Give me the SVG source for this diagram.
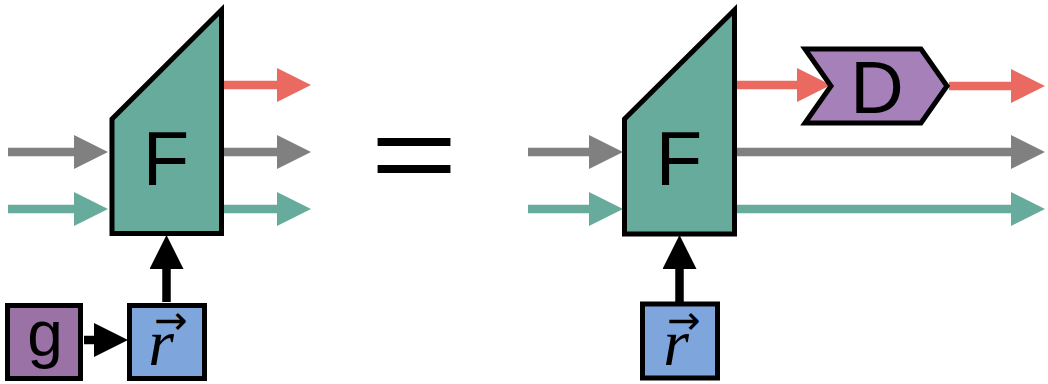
<svg xmlns="http://www.w3.org/2000/svg" width="1048" height="384" viewBox="0 0 1048 384">
<style>
.sh{stroke:#000;stroke-width:5;stroke-linejoin:miter;stroke-miterlimit:10}
.f{fill:#67ab9c}
.lbl{font-family:"Liberation Sans",Arial,sans-serif;fill:#000;text-anchor:middle}
.math{font-family:"Liberation Serif","Times New Roman",serif;font-style:italic;fill:#000;text-anchor:middle}
.vec{font-family:"DejaVu Sans",sans-serif;font-style:normal;font-size:40px}
.gr{stroke:#808080;stroke-width:8.5;fill:none}
.tl{stroke:#67ab9c;stroke-width:8.5;fill:none}
.rd{stroke:#ea6a62;stroke-width:8.5;fill:none}
.bk{stroke:#000;stroke-width:8.5;fill:none}
</style>
<defs>
<marker id="hg" viewBox="0 0 34 34" refX="0" refY="17" markerWidth="34" markerHeight="34" markerUnits="userSpaceOnUse" orient="auto"><path d="M0,0L34,17L0,34z" fill="#808080"/></marker>
<marker id="ht" viewBox="0 0 34 34" refX="0" refY="17" markerWidth="34" markerHeight="34" markerUnits="userSpaceOnUse" orient="auto"><path d="M0,0L34,17L0,34z" fill="#67ab9c"/></marker>
<marker id="hr" viewBox="0 0 34 34" refX="0" refY="17" markerWidth="34" markerHeight="34" markerUnits="userSpaceOnUse" orient="auto"><path d="M0,0L34,17L0,34z" fill="#ea6a62"/></marker>
<marker id="hb" viewBox="0 0 34 34" refX="0" refY="17" markerWidth="34" markerHeight="34" markerUnits="userSpaceOnUse" orient="auto"><path d="M0,0L34,17L0,34z" fill="#000"/></marker>
</defs>
<rect width="1048" height="384" fill="#fff"/>
<g id="connectors">
<path class="gr" d="M8,152H74" marker-end="url(#hg)"/>
<path class="tl" d="M8,209H74" marker-end="url(#ht)"/>
<path class="rd" d="M224,85H277" marker-end="url(#hr)"/>
<path class="gr" d="M224,152H277" marker-end="url(#hg)"/>
<path class="tl" d="M224,209H277" marker-end="url(#ht)"/>
<path class="bk" d="M166.5,302V269" marker-end="url(#hb)"/>
<path class="bk" d="M84,340H94" marker-end="url(#hb)"/>
<path class="gr" d="M528,152H589" marker-end="url(#hg)"/>
<path class="tl" d="M528,209H589" marker-end="url(#ht)"/>
<path class="rd" d="M737,85H797" marker-end="url(#hr)"/>
<path class="rd" d="M949,86H1011" marker-end="url(#hr)"/>
<path class="gr" d="M737,152H1011" marker-end="url(#hg)"/>
<path class="tl" d="M737,209H1011" marker-end="url(#ht)"/>
<path class="bk" d="M679.5,302V269" marker-end="url(#hb)"/>
</g>
<g id="F1">
<polygon class="sh f" points="112,119 221.5,10 221.5,233.5 112,233.5"/>
<text class="lbl" x="166" y="185" font-size="76">F</text>
</g>
<g id="g1">
<rect class="sh" x="7.5" y="305.5" width="73" height="73" fill="#9a72a6"/>
<text class="lbl" x="45" y="356" font-size="64">g</text>
</g>
<g id="r1">
<rect class="sh" x="129.5" y="305.5" width="75" height="73" fill="#7ea6dd"/>
<text class="math" x="161" y="365" font-size="66">r<tspan class="vec" x="171" y="334">→</tspan></text>
</g>
<g id="eq">
<text class="lbl" font-size="150" transform="translate(414,191) scale(1,0.73)">=</text>
</g>
<g id="F2">
<polygon class="sh f" points="624.5,119 734.5,10 734.5,234 624.5,234"/>
<text class="lbl" x="679" y="185" font-size="76">F</text>
</g>
<g id="D">
<polygon class="sh" points="805,49 921,49 947,86 921,123 805,123 831,86" fill="#a680b9"/>
<text class="lbl" x="877" y="113" font-size="74">D</text>
</g>
<g id="r2">
<rect class="sh" x="642.5" y="304" width="75" height="74" fill="#7ea6dd"/>
<text class="math" x="676" y="365" font-size="66">r<tspan class="vec" x="684" y="334">→</tspan></text>
</g>
</svg>
